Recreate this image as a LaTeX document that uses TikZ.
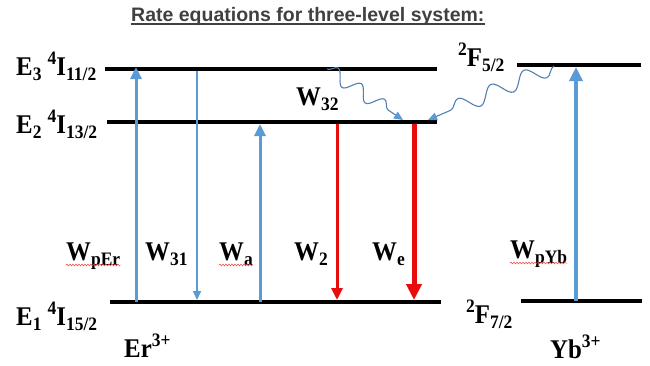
\documentclass[tikz,border=0pt]{standalone}
\usepackage{fontspec}
\setmainfont{Liberation Serif}[FakeStretch=0.92]
\newfontfamily\titlefont{Liberation Sans}
\usepackage{xcolor}
\usepackage{tikz}
\usetikzlibrary{arrows.meta, decorations.pathmorphing}

\definecolor{arrblue}{RGB}{91,155,213}
\definecolor{wavyblue}{RGB}{82,128,178}
\definecolor{arrred}{RGB}{232,12,12}
\definecolor{titlegray}{RGB}{64,64,64}

\newcommand{\lsub}[1]{\raisebox{-0.22em}{\fontsize{19}{19}\selectfont #1}}
\newcommand{\lsup}[1]{\raisebox{0.4em}{\fontsize{19}{19}\selectfont #1}}

\begin{document}
\begin{tikzpicture}[x=1pt, y=-1pt,
    level/.style={line width=4pt},
    lbl/.style={anchor=base west, inner sep=0pt, font=\bfseries\fontsize{27}{27}\selectfont},
    uparr/.style={draw=arrblue, line width=3pt, -{Triangle[length=12pt, width=11pt, color=arrblue]}},
    redarr/.style={draw=arrred, line width=3pt, -{Triangle[length=12pt, width=11pt, color=arrred]}},
    wavy/.style={draw=wavyblue, line width=1.1pt, decorate,
        decoration={snake, amplitude=7pt, segment length=28pt, post length=9pt},
        -{Triangle[length=9pt, width=8pt, color=arrblue]}},
    spell/.style={draw=arrred!80, line width=0.5pt, decorate,
        decoration={snake, amplitude=0.9pt, segment length=3pt}}]
    \useasboundingbox (0,0) rectangle (650,365);

    % title
    \node (title) [anchor=base west, inner sep=0pt, text=titlegray,
        font=\titlefont\bfseries\fontsize{19.5}{19.5}\selectfont] at (131,21) {Rate equations for three-level system:};
    \draw[titlegray, line width=1.8pt] ([yshift=-3pt]title.base west) -- ([yshift=-3pt]title.base east);

    % energy levels
    \coordinate (E3l) at (105,69);  \coordinate (E3r) at (437,69);
    \coordinate (E2l) at (107,122); \coordinate (E2r) at (437,122);
    \coordinate (E1l) at (110,302); \coordinate (E1r) at (441,302);
    \coordinate (F5l) at (517,65);  \coordinate (F5r) at (641,65);
    \coordinate (F7l) at (521,301); \coordinate (F7r) at (642,301);
    \draw[level] (E3l) -- (E3r);
    \draw[level] (E2l) -- (E2r);
    \draw[level] (E1l) -- (E1r);
    \draw[level] (F5l) -- (F5r);
    \draw[level] (F7l) -- (F7r);

    % level labels
    \node (lE3) [lbl] at (16,75) {E\lsub{3} \lsup{4}I\lsub{11/2}};
    \node (lE2) [lbl] at (16,133) {E\lsub{2} \lsup{4}I\lsub{13/2}};
    \node (lE1) [lbl] at (16,325) {E\lsub{1} \lsup{4}I\lsub{15/2}};
    \node (lF5) [lbl] at (458,66) {\lsup{2}F\lsub{5/2}};
    \node (lF7) [lbl] at (466,323) {\lsup{2}F\lsub{7/2}};
    \node (er) [lbl] at (124,357) {Er\lsup{3+}};
    \node (yb) [lbl] at (550,358) {Yb\lsup{3+}};

    % transitions
    \coordinate (pEr1) at (136,302); \coordinate (pEr3) at (136,67);
    \coordinate (w31a) at (197,71);  \coordinate (w31b) at (197,300);
    \coordinate (wa1) at (260,302);  \coordinate (wa2) at (260,124);
    \coordinate (w2a) at (337,124);  \coordinate (w2b) at (337,300);
    \coordinate (wea) at (414,124);  \coordinate (web) at (414,300);
    \coordinate (pYb1) at (576,301); \coordinate (pYb2) at (576,67);
    \draw[uparr] (pEr1) -- (pEr3);
    \draw[uparr, line width=2pt, -{Triangle[length=9pt, width=8pt, color=arrblue]}] (w31a) -- (w31b);
    \draw[uparr] (wa1) -- (wa2);
    \draw[redarr] (w2a) -- (w2b);
    \draw[redarr, line width=5pt, -{Triangle[length=16pt, width=15pt, color=arrred]}] (wea) -- (web);
    \draw[uparr, line width=4pt, -{Triangle[length=14pt, width=13pt, color=arrblue]}] (pYb1) -- (pYb2);

    % non-radiative and transfer
    \coordinate (w32s) at (327,69); \coordinate (w32e) at (403,120);
    \coordinate (ybs) at (554,66);  \coordinate (ybe) at (428,120);
    \draw[wavy] (w32s) -- (w32e);
    \draw[wavy, decoration={snake, amplitude=8pt, segment length=36pt, post length=9pt}] (ybs) -- (ybe);

    % rate labels
    \node (wper) [lbl] at (66,260) {W\lsub{pEr}};
    \node (w31) [lbl] at (145,260) {W\lsub{31}};
    \node (wa) [lbl] at (219,260) {W\lsub{a}};
    \node (w2) [lbl] at (294,260) {W\lsub{2}};
    \node (we) [lbl] at (372,260) {W\lsub{e}};
    \node (wpyb) [lbl] at (510,258) {W\lsub{pYb}};
    \node (w32) [lbl] at (296,105) {W\lsub{32}};

    \draw[spell] ([yshift=-5pt]wper.base west) -- ([yshift=-5pt]wper.base east);
    \draw[spell] ([yshift=-5pt]wa.base west) -- ([yshift=-5pt]wa.base east);
    \draw[spell] ([yshift=-5pt]wpyb.base west) -- ([yshift=-5pt]wpyb.base east);
\end{tikzpicture}
\end{document}
